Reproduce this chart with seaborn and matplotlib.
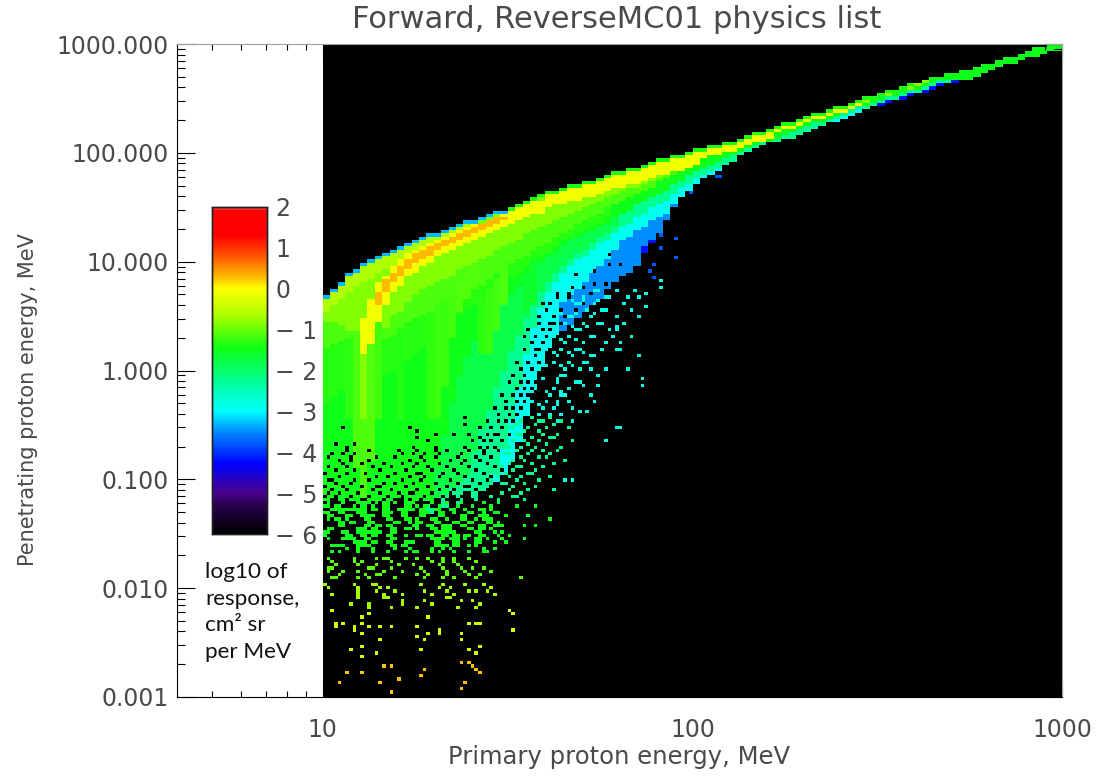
import numpy as np
import seaborn as sns
import matplotlib.pyplot as plt
from matplotlib.colors import LinearSegmentedColormap

# histogram bins: 200 x 200, x 10-1000 MeV, y 0.001-1000 MeV
# band arrays give one value per pair of x bins, as y bin numbers
top_edge = [122,124,126,129,130,132,133,134,135,136,137,138,139,140,141,141,142,143,144,145,145,146,147,148,148,149,150,151,152,153,154,154,155,156,156,157,157,158,159,160,160,161,161,162,163,164,164,165,165,166,167,167,168,168,169,169,170,171,172,172,173,174,175,175,176,177,178,178,179,180,180,181,182,183,183,184,185,185,186,187,187,188,189,189,190,190,191,191,192,193,193,194,195,195,196,197,198,198,199,199]
solid_lo = [58,61,56,60,57,55,58,60,56,59,61,57,58,60,56,61,58,62,59,63,60,63,64,66,68,72,78,86,94,100,106,110,112,114,116,118,120,122,125,127,129,130,132,136,139,142,146,150,153,155,157,159,160,161,163,164,166,167,168,169,170,170,171,171,172,173,174,175,176,176,177,178,179,180,181,181,182,183,183,184,185,185,186,187,188,188,189,189,190,191,192,193,194,194,195,196,196,197,198,198]
sky_lo = [0]*43 + [138,140,142,145,148,150,152,154,156,157,158,160,161,162,164,165,166,167,168,169,169,170,171,172,173,174,175,176,177,178,179,180]
cyan_lo = [0]*32 + [121,123,125,127,130,132,134,137,140,141,143,144,146,147,148,151,153,155,157,158,159,160,161,162,164,165,166,167,168,169,170,170,171,172,173,174,175,176,177,178,179,180,181]
spring_lo = [0]*20 + [60,62,64,68,76,85,95,105,113,119,124,127,130,132,134,135,137,139,140,142,144,145,147,148,150,151,152,154,156,157,159,160,161,162,163,164,165,166,167,168,169,170,171,171,172,173,174,175,176,177,178,179,180,180,181,182,183,183,184,185,185,186,187,188,188]
mint_lo = [0]*14 + [58,60,62,64,66,68,75,82,88,95,100,106,111,116,120,124,127,130,132,134,136,137,139,141,142,144]
green_lo = [0]*14 + [60,70,80,90,98,104,109,112,115,118,121,123,126,129,131,133,135,136,138,140,141,142,143,144,145,147,148,149,151,152,153,154,155,157,158,160,161,162,163,164,165,166,167,168,169,170,170,171,172,173,174,175,176,176,177,178,179,180,181,181,182,183,184,184,185,186,186,187,188,189,189,189,189,189,190,191,192,193,194,194,195,196,196,197,198,198]
leaf_lo = [90,92,94,96,97,98,98,99,99,100,101,103,105,107,109,111,113,115,117,119,120,121,123,125,127,129,130,132,134,135,136,138,140,141,142,143,144,145,147]
lime_lo = [107,108,109,110,110,110,110,110,110,111,113,115,116,117,118,119,120,122,123,124,125,126,128,130,131,133,134,135,137,138,139,141,142,143,145,146,147,148,150,151,152,153,154,155,156,158,159,160,161,163,164,165,166,167]
yg_lo = [115,115,114,112,112,110,110,113,113,117,118,121,123,125,126,127,128,129,131,132,133,134,135,137,138,139,140,142,143,144,145,146,147,148,149,150,151,152,153,154,155,156,156,157,158,159,160,161,162,164,165,166,167,167,168,169,169,170,171,172,172,173,174,175,175,176,177,178,178,179,180,181,182,182,183,184,184,185,186,186,187,188]
cap_lo = [118,120,122,124,126,127,128,130,131,132,133,134,135,136,137,138,139,140,141,142]

# yellow ridge and its orange core start at pair 5 and pair 7
ridge_top = [115,121,126,128,131,133,135,136,137,138,139,140,141,142,143,144,144,145,146,147,148,149,150,151,151,154,154,155,156,156,157,157,158,159,160,160,161,161,162,163,164,164,165,165,166,167,167,168,168,169,169,170,171,172,172,173,174,175,175,176,177,178,178,179,180,180,181,182,183,183,184,185,185,186,187]
ridge_bot = [105,108,115,120,124,126,129,130,132,133,135,136,137,138,139,140,141,142,143,144,145,146,147,148,148,150,151,151,152,152,153,153,154,155,156,156,157,157,158,159,160,160,161,161,162,163,165,166,166,167,167,168,169,170,170,171,173,174,174,175,176,177,177,178,179,179,180,181,183,183,184,185,185,186,187]
core_top = [123,127,129,131,133,135,136,137,138,139,140,141,142,143,144,145,146,146]
core_bot = [120,124,127,129,131,133,134,135,137,138,139,140,141,142,143,144,145,146]

# fainter vertical streaks
streak_pair = [3,4,5,5,6,7,10,14,15,16,17,18,19,20,21,22,23,24,27,28]
streak_lo = [85,70,85,60,72,85,85,85,85,95,110,118,122,125,105,105,112,120,118,120]
streak_hi = [108,112,105,85,108,115,112,118,120,122,125,128,130,132,122,125,128,131,130,133]
streak_val = [-1.3,-1.15,-0.85,-1.15,-1.1,-1.2,-1.35,-1.3,-1.25,-1.22,-1.18,-1.12,-1.1,-1.1,-1.3,-1.25,-1.2,-1.15,-1.6,-1.6]

# empty bins inside the filled part (y bin: x bins)
holes = {
    135:[77], 132:[77,80], 130:[73], 129:[68], 126:[73,76], 125:[67,70], 123:[63,66,72], 122:[63,66], 120:[59,61,70,74],
    118:[60,64,68], 116:[58,62,65,71], 114:[58,61,62,64,68], 112:[55,59,61,66], 110:[54,57,60,63],
    108:[56,59,62,64], 106:[54,57,58,61,63], 104:[57,60,62,65], 102:[52,55,58,60,63], 100:[53,56,59,61,62],
    98:[51,54,58,60], 96:[50,53,55,57,59], 94:[52,54,56,58], 92:[48,51,53,55,57], 90:[49,52,54],
    88:[46,49,51,53], 86:[47,50,52], 85:[38], 84:[44,47,49,51], 83:[38], 82:[5,23,42,45,48], 81:[25], 80:[30,35,39,44,46,47,50],
    79:[25,42], 78:[28,40,43,45,48], 77:[3,8],
    76:[6,24,30,38,42,44,46], 75:[6,12,20,25,30,33,39,43,47], 74:[2,5,8,21,24,27,31,37,43], 73:[1,7,14,19,26,30,36,41,45],
    72:[4,7,12,23,27,34,38,42], 71:[5,10,16,21,25,31,37,44], 70:[1,6,13,18,24,28,33,39,46], 69:[3,8,15,22,29,35,41,48],
    68:[0,6,11,19,25,26,32,36,43], 67:[4,14,17,23,27,31,38,45], 66:[1,2,8,12,21,26,34,40,44], 65:[3,7,16,19,24,30,36,42,47],
    64:[0,5,10,14,15,22,28,33,38,39,45], 63:[2,6,13,18,25,31,35,41,46], 62:[1,4,9,15,20,23,24,29,34,39,43], 61:[0,3,7,12,17,21,27,32,37,44],
    60:[2,3,6,10,11,16,19,23,26,30,33,36,40,42], 59:[0,4,8,13,18,20,25,28,31,35,38,41], 58:[2,5,9,12,15,21,24,29,34,37,39],
}

# single filled bins outside the solid part, grouped by tone
speck_tones = [-1.5, -1.5, -1.05, -0.7, -0.35, 0.25, -2.2, -2.8, -3.8]
specks_green = {
    59:[1,5,9,14,19,24,29,33,37,43,47], 58:[3,8,11,17,22,27,31,36,40,45,52,57],
    57:[2,6,10,13,16,20,23,26,27,30,34,38,42,45], 56:[0,4,9,16,18,21,26,28,31,35,39,43,46],
    55:[1,6,12,16,21,26,31,37,42,44,49,55], 54:[1,3,6,11,17,22,25,29,33,37,41,43,45,61],
    53:[4,7,12,19,23,25,30,35,39,44,47], 52:[4,11,14,17,24,28,32,34,37,42,46,48,54,57],
    51:[1,9,10,13,18,22,25,29,32,34,39,42,45], 50:[0,5,9,11,13,15,18,30,32,34,41,46,48],
    49:[0,6,10,13,17,22,25,28,32,35,38,42,47,50], 48:[1,5,7,11,18,29,31,34,35,38,41,44,48,54],
    47:[8,10,13,17,22,24,30,35,41,46,49], 46:[2,4,9,11,18,21,30,32,35,39,41],
    45:[6,9,13,19,23,29,32,34,43,46], 44:[2,4,9,13,17,22,24,25,29,31,35,39,43,44],
}
specks_green2 = {
    57:[3,7,14,21,24,31,35,43], 56:[1,5,10,17,22,27,32,40,47], 55:[2,7,13,17,22,27,32,38,43],
    54:[4,12,18,23,30,38,44], 53:[5,8,13,20,26,31,36,40,45], 52:[5,12,15,18,25,29,33,38,43,47],
    51:[2,11,14,19,23,30,33,40,43], 50:[1,6,10,12,14,19,31,33,35,42], 49:[7,11,14,18,26,29,33,36,39,43],
    48:[6,8,12,19,30,32,36,42], 47:[9,11,14,18,23,31,36,42], 46:[3,5,10,12,19,22,31,33,36],
}
specks_lime = {
    42:[1,8,14,16,17,22,25,28,32,35,39], 41:[2,8,10,18,29,32,35,41], 40:[3,9,14,20,24,31,36],
    39:[1,2,12,13,18,26,32,37,40,43], 38:[1,5,9,16,21,27,33,38,45], 37:[4,11,14,15,25,28,33,39,42],
    36:[2,3,9,12,19,27,32,35,41,53],
}
specks_yg = {
    34:[0,8,13,14,26,32,38,43], 33:[1,9,15,17,31,34,45], 32:[9,14,19,27,33,39,41,44],
    31:[2,9,16,21,29,35,46], 30:[9,16,17,33,34], 29:[21,27,37,40], 28:[7,12,21,29,42], 27:[12,18,25,36,41],
}
specks_yellow = {
    26:[2,50], 25:[12,51], 24:[10,28], 22:[3,5,10,39,41,42], 21:[3,8,12,15,18,25], 20:[8,31,51], 19:[10,28,31,37],
    18:[25], 17:[15,27,37], 15:[10,42], 14:[7,26,39], 13:[14,41], 12:[10],
}
specks_amber = {
    10:[37,39], 9:[16,18,40], 8:[27,41], 7:[6,10,42], 6:[26], 5:[20], 4:[4,15,38], 2:[37], 1:[18],
}
specks_mint = {
    85:[49,50,56,61], 84:[53,58,59,64], 83:[47,52,57,62], 82:[50,51,55,60,66], 81:[48,54,58], 80:[52,53,59,63],
    79:[46,49,56,61,62], 78:[51,54,58,67], 77:[47,48,55,60], 76:[50,53,57,64], 75:[45,52,56,59,63], 74:[44,49,50,55,61],
    73:[47,53,58,60], 72:[46,51,54,65], 71:[44,45,50,56,62], 70:[48,52,53,59], 69:[46,51,57], 68:[44,49,55,56],
    67:[47,50,53,61], 66:[45,52,58], 65:[48,49,54], 64:[44,51,57], 63:[46,50,55,62], 62:[48,53], 61:[45,51,52], 60:[47,54],
}
specks_cyan = {
    127:[91], 125:[91], 124:[73,74,79,84], 123:[87], 122:[70,76,77,82,85], 121:[67,70,74], 120:[68,69,73,81], 119:[87],
    118:[71,75,76,83], 117:[64,68,73], 116:[66,67,72,79,85], 114:[65,70,74,75,81], 113:[62,67,71,79], 112:[63,68,69,77,79],
    110:[62,66,72,73,78,83], 109:[60,64,68], 108:[61,65,70,76,80], 106:[60,64,68,69,75,79,80], 105:[58,62,66,70], 104:[59,63,67,72,73,85],
    102:[58,62,66,70,71], 101:[56,60,64,67], 100:[57,61,65,69,72,76,82], 98:[56,60,64,65,74], 97:[54,59,63,86], 96:[55,59,63,68,69],
    95:[70,74,86], 94:[54,58,62,66], 93:[52,56,60,64], 92:[53,57,61,64,65,72], 90:[52,56,60,63,66,73], 89:[50,54,58,63], 88:[51,55,59,62,67],
    87:[69,71], 86:[50,54,58,61,64], 84:[63,67], 82:[79,80], 78:[76], 66:[65,67],
}
specks_blue = {159:[106,107], 154:[99], 141:[91], 140:[95], 137:[91], 134:[95], 132:[89], 130:[88], 128:[89]}
all_specks = [specks_green, specks_green2, specks_lime, specks_yg, specks_yellow, specks_amber, specks_mint, specks_cyan, specks_blue]

y_ticks = [0.001, 0.01, 0.1, 1, 10, 100, 1000]
y_labels = ["0.001", "0.010", "0.100", "1.000", "10.000", "100.000", "1000.000"]
x_ticks = [10, 100, 1000]
x_labels = ["10", "100", "1000"]
bar_ticks = [-6, -5, -4, -3, -2, -1, 0, 1, 2]
bar_labels = ["\u2212 6", "\u2212 5", "\u2212 4", "\u2212 3", "\u2212 2", "\u2212 1", "0", "1", "2"]

# rainbow table of the colour bar
stops = [(-6, "#000000"), (-5.3, "#280050"), (-5, "#4b008c"), (-4.3, "#0000ff"), (-3.5, "#008cff"),
         (-3, "#00ffff"), (-2.4, "#00ffaa"), (-1.45, "#0fff14"), (-0.65, "#aaff00"), (0, "#ffff00"),
         (0.4, "#ffa500"), (0.9, "#ff4600"), (1.3, "#ff0000"), (1.96, "#ff0000"), (2, "#e8e8e8")]
rainbow = LinearSegmentedColormap.from_list("rainbow_idl", [((v + 6) / 8, c) for v, c in stops], N=256)

grid = np.full((200, 200), -6.0)
layers = [(solid_lo, -4.2), (sky_lo, -3.5), (cyan_lo, -2.9), (spring_lo, -2.25), (mint_lo, -1.8), (green_lo, -1.5),
          (leaf_lo, -1.33), (lime_lo, -1.15), (yg_lo, -0.85), (cap_lo, -0.6)]
for lo, val in layers:
    for k, bottom in enumerate(lo):
        if k >= len(top_edge):
            break
        grid[max(bottom, solid_lo[k]):top_edge[k] + 1, 2 * k:2 * k + 2] = val
for k, lo, hi, val in zip(streak_pair, streak_lo, streak_hi, streak_val):
    grid[lo:hi, 2 * k:2 * k + 2] = val
for k, (hi, lo) in enumerate(zip(ridge_top, ridge_bot), start=5):
    grid[lo:hi + 1, 2 * k:2 * k + 2] = -0.1
for k, (hi, lo) in enumerate(zip(core_top, core_bot), start=7):
    grid[lo:hi + 1, 2 * k:2 * k + 2] = 0.3
# thin rim along the upper edge: blue at first, green further on
for k, t in enumerate(top_edge[:80]):
    grid[t, 2 * k:2 * k + 2] = -3.3 if k < 25 else -1.4
for group, tone in zip(all_specks, speck_tones):
    for row, cols in group.items():
        grid[row, cols] = tone
for row, cols in holes.items():
    grid[row, cols] = -6

W, H = 1101, 777
fig = plt.figure(figsize=(W / 100, H / 100), dpi=100)
text_col = "#4a4a4a"

# image part, 10-1000 MeV only, and the colour bar
hm_ax = fig.add_axes([323 / W, 1 - 697 / H, 739 / W, 653 / H], zorder=1)
cax = fig.add_axes([212 / W, 1 - 534 / H, 55 / W, 327 / H], zorder=3)
sns.heatmap(grid, cmap=rainbow, vmin=-6, vmax=2, cbar=True, cbar_ax=cax, xticklabels=False, yticklabels=False,
            cbar_kws={"ticks": bar_ticks}, ax=hm_ax)
hm_ax.set_ylim(0, 200)
hm_ax.set_axis_off()
cax.set_yticks(bar_ticks, bar_labels)
cax.tick_params(axis="y", length=0, labelsize=17, labelcolor=text_col, pad=6, labelfontfamily="DejaVu Sans")
for sp in cax.spines.values():
    sp.set_visible(True)
    sp.set_linewidth(1)
    sp.set_color("#222222")

# log axes on top of the image
ax = fig.add_axes([177 / W, 1 - 697 / H, 885 / W, 653 / H], zorder=2)
ax.patch.set_alpha(0)
ax.set_xscale("log")
ax.set_yscale("log")
ax.set_xlim(4.03, 1000)
ax.set_ylim(0.001, 1000)
ax.set_xticks(x_ticks, x_labels)
ax.set_yticks(y_ticks, y_labels)
ax.tick_params(axis="y", which="major", length=13, width=0.8, direction="in", labelsize=17, labelcolor=text_col, pad=6, right=True, labelfontfamily="DejaVu Sans")
ax.tick_params(axis="y", which="minor", length=6, width=0.8, direction="in", right=True)
ax.tick_params(axis="x", which="major", length=9, width=0.8, direction="in", labelsize=17, labelcolor=text_col, pad=15, top=True, labelfontfamily="DejaVu Sans")
ax.tick_params(axis="x", which="minor", length=4.5, width=0.8, direction="in", top=True)
for side in ["top", "right"]:
    ax.spines[side].set_color("#a0a0a0")
ax.set_xlabel("Primary proton energy, MeV", fontsize=17.5, color=text_col, labelpad=2, x=0.5)
ax.set_ylabel("Penetrating proton energy, MeV", fontsize=15, color=text_col, labelpad=13, y=0.455)
ax.set_title("Forward, ReverseMC01 physics list", fontsize=22, color=text_col, pad=11.5, x=0.497)

fig.text(205 / W, 1 - 662 / H, "log10 of\nresponse,\ncm\u00b2 sr\nper MeV", fontsize=16.2, family="Lato",
         color="#111111", linespacing=1.42, va="bottom", ha="left", zorder=5)

fig.savefig("out.png", dpi=100)
